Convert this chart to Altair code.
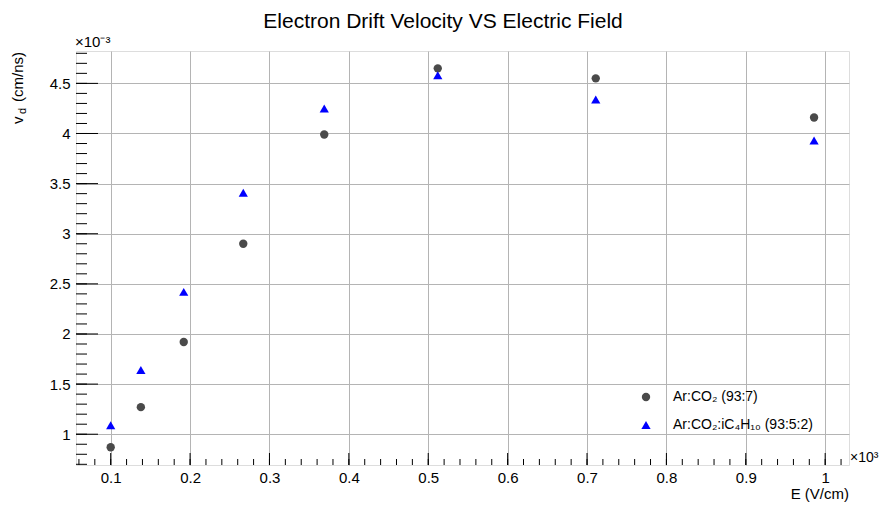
import altair as alt
import pandas as pd

# ---- data ----
E_vcm = [100, 138, 192, 267, 369, 512, 711, 986]            # E in V/cm
vd_co2 = [0.87, 1.27, 1.92, 2.90, 3.99, 4.65, 4.55, 4.16]   # v_d in 1e-3 cm/ns
vd_iso = [1.09, 1.64, 2.42, 3.41, 4.25, 4.58, 4.34, 3.93]   # v_d in 1e-3 cm/ns
series_names = ["Ar:CO₂ (93:7)", "Ar:CO₂:iC₄H₁₀ (93:5:2)"]
series_colors = ["#4a4a4a", "#0000ff"]
series_shapes = ["circle", "triangle-up"]
series_sizes = [70, 85]

x_major = [0.1, 0.2, 0.3, 0.4, 0.5, 0.6, 0.7, 0.8, 0.9, 1.0]
x_minor = [round(0.06 + 0.02 * i, 2) for i in range(49)]
y_major = [1.0, 1.5, 2.0, 2.5, 3.0, 3.5, 4.0, 4.5]
y_minor = [round(0.7 + 0.1 * i, 1) for i in range(42)]

X_DOM = [0.0563, 1.030]
Y_DOM = [0.693, 4.823]
W, H = 773, 414
FONT = "Liberation Sans"

rows = []
for name, vals in zip(series_names, [vd_co2, vd_iso]):
    for e, v in zip(E_vcm, vals):
        rows.append({"E": e, "vd": v * 1e-3, "series": name})
df = pd.DataFrame(rows)

xs = alt.Scale(domain=X_DOM, nice=False, zero=False)
ys = alt.Scale(domain=Y_DOM, nice=False, zero=False)

# grid + axis labels
base_axes = alt.Chart(pd.DataFrame({"x": [X_DOM[0]], "y": [Y_DOM[0]]})).mark_point(opacity=0).encode(
    x=alt.X("x:Q", scale=xs, axis=alt.Axis(values=x_major, format="~g", grid=True, gridColor="#b4b4b4",
                                           gridWidth=1, ticks=False, domain=False, title=None,
                                           labelFontSize=15, labelFont=FONT, labelColor="black",
                                           labelPadding=5, labelFlush=False)),
    y=alt.Y("y:Q", scale=ys, axis=alt.Axis(values=y_major, format="~g", grid=True, gridColor="#b4b4b4",
                                           gridWidth=1, ticks=False, domain=False, title=None,
                                           labelFontSize=15, labelFont=FONT, labelColor="black",
                                           labelPadding=6)),
)

# inward tick marks (ROOT style)
xt_major = alt.Chart(pd.DataFrame({"t": x_major})).mark_rule(color="black", strokeWidth=1).encode(
    x=alt.X("t:Q", scale=xs), y=alt.value(H), y2=alt.value(H - 12))
xt_minor = alt.Chart(pd.DataFrame({"t": x_minor})).mark_rule(color="black", strokeWidth=1).encode(
    x=alt.X("t:Q", scale=xs), y=alt.value(H), y2=alt.value(H - 6))
yt_major = alt.Chart(pd.DataFrame({"t": y_major})).mark_rule(color="black", strokeWidth=1).encode(
    y=alt.Y("t:Q", scale=ys), x=alt.value(0), x2=alt.value(22))
yt_minor = alt.Chart(pd.DataFrame({"t": y_minor})).mark_rule(color="black", strokeWidth=1).encode(
    y=alt.Y("t:Q", scale=ys), x=alt.value(0), x2=alt.value(11))

points = alt.Chart(df).transform_calculate(
    Ek="datum.E / 1000", vdm="datum.vd * 1000"
).mark_point(filled=True, opacity=1).encode(
    x=alt.X("Ek:Q", scale=xs),
    y=alt.Y("vdm:Q", scale=ys),
    color=alt.Color("series:N", scale=alt.Scale(domain=series_names, range=series_colors),
                    legend=alt.Legend(title=None, orient="none", legendX=563, legendY=339,
                                      labelFontSize=14, labelFont=FONT, labelColor="black",
                                      symbolSize=75, rowPadding=14, labelOffset=20, padding=0)),
    shape=alt.Shape("series:N", scale=alt.Scale(domain=series_names, range=series_shapes), legend=None),
    size=alt.Size("series:N", scale=alt.Scale(domain=series_names, range=series_sizes), legend=None),
)

def txt(s, x, y, size=15, align="left", angle=0, baseline="alphabetic"):
    return alt.Chart(pd.DataFrame({"s": [s]})).mark_text(
        font=FONT, fontSize=size, align=align, baseline=baseline, angle=angle, color="black"
    ).encode(text="s:N", x=alt.value(x), y=alt.value(y))

title = txt("Electron Drift Velocity VS Electric Field", 443 - 76, 28 - 51, size=21, align="center")
xtitle = txt("E (V/cm)", W, 448, size=15, align="right")
xexp = txt("×10³", W + 1, 411, size=14)
yexp = txt("×10⁻³", -1, -4, size=15)
yt_v = txt("v", -53, 73, size=15, angle=270)
yt_d = txt("d", -50, 63, size=11, angle=270)
yt_rest = txt("(cm/ns)", -53, 1, size=15, align="right", angle=270)

chart = alt.layer(
    base_axes, xt_major, xt_minor, yt_major, yt_minor, points,
    title, xtitle, xexp, yexp, yt_v, yt_d, yt_rest
).properties(
    width=W, height=H,
    autosize=alt.AutoSizeParams(type="none"),
    padding={"left": 68, "top": 43, "right": 30, "bottom": 38},
).configure_view(stroke="black", strokeWidth=1).configure(background="white")

chart.save("out.html", embed_options={"renderer": "svg", "actions": False})
